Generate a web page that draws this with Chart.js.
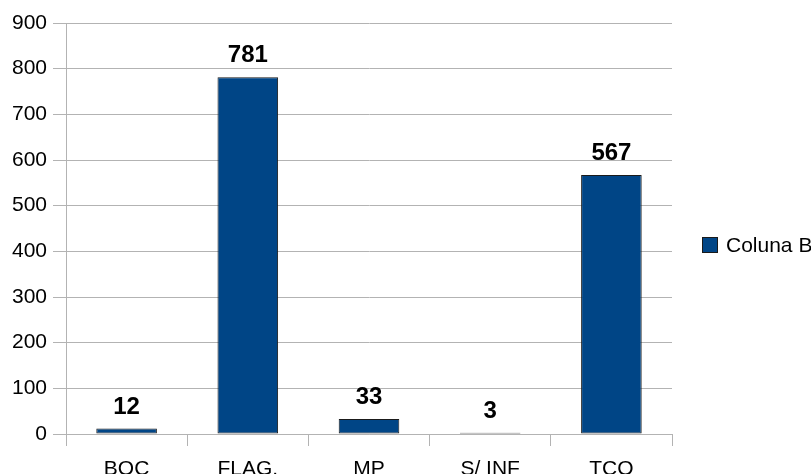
<!DOCTYPE html>
<html>
<head>
<meta charset="utf-8">
<script src="https://cdn.jsdelivr.net/npm/chart.js@4/dist/chart.umd.min.js"></script>
<style>
html,body{margin:0;padding:0;background:#fff;}
canvas{display:block;}
</style>
</head>
<body>
<canvas id="c" width="811" height="474"></canvas>
<script>
const categories = ["BOC", "FLAG.", "MP", "S/ INF", "TCO"];
const values = [12, 781, 33, 3, 567];
const seriesName = "Coluna B";
const yTicks = [0, 100, 200, 300, 400, 500, 600, 700, 800, 900];

const FONT = "'Liberation Sans', Arial, sans-serif";
const GRID = "#b3b3b3";
const BAR = "#004586";

const valueLabels = {
  id: 'valueLabels',
  afterDatasetsDraw(chart) {
    const ctx = chart.ctx;
    const meta = chart.getDatasetMeta(0);
    ctx.save();
    ctx.font = "bold 24px " + FONT;
    ctx.fillStyle = "#000";
    ctx.textAlign = "center";
    ctx.textBaseline = "alphabetic";
    meta.data.forEach((bar, i) => {
      ctx.fillText(String(values[i]), bar.x, bar.y - 15);
    });
    ctx.restore();
  }
};

const customLegend = {
  id: 'customLegend',
  afterDraw(chart) {
    const ctx = chart.ctx;
    ctx.save();
    ctx.fillStyle = BAR;
    ctx.fillRect(702.5, 237.5, 15, 15);
    ctx.strokeStyle = "#1a1a1a";
    ctx.lineWidth = 1;
    ctx.strokeRect(702.5, 237.5, 15, 15);
    ctx.fillStyle = "#000";
    ctx.font = "21px " + FONT;
    ctx.textAlign = "left";
    ctx.textBaseline = "middle";
    ctx.fillText(seriesName, 726, 246);
    ctx.restore();
  }
};

new Chart(document.getElementById('c'), {
  type: 'bar',
  data: {
    labels: categories,
    datasets: [{
      label: seriesName,
      data: values,
      backgroundColor: BAR,
      borderColor: "#1a1a1a",
      borderWidth: 1,
      borderSkipped: false,
      barPercentage: 0.5,
      categoryPercentage: 1.0
    }]
  },
  options: {
    responsive: false,
    animation: false,
    devicePixelRatio: 1,
    layout: { padding: { top: 23, right: 139, left: 0, bottom: 0 } },
    plugins: { legend: { display: false }, tooltip: { enabled: false } },
    scales: {
      x: {
        grid: { offset: true, drawOnChartArea: false, drawTicks: true, tickLength: 12, color: GRID },
        border: { display: true, color: GRID },
        ticks: { font: { family: FONT, size: 21 }, color: "#000", padding: 11, maxRotation: 0 },
        afterFit(s) { s.height = 40; }
      },
      y: {
        min: 0, max: 900,
        afterBuildTicks(s) { s.ticks = yTicks.map(v => ({ value: v })); },
        grid: { color: GRID, tickLength: 13, drawTicks: true },
        border: { display: true, color: GRID },
        ticks: { font: { family: FONT, size: 21 }, color: "#000", padding: 6 },
        afterFit(s) { s.width = 66; }
      }
    }
  },
  plugins: [valueLabels, customLegend]
});
</script>
</body>
</html>
